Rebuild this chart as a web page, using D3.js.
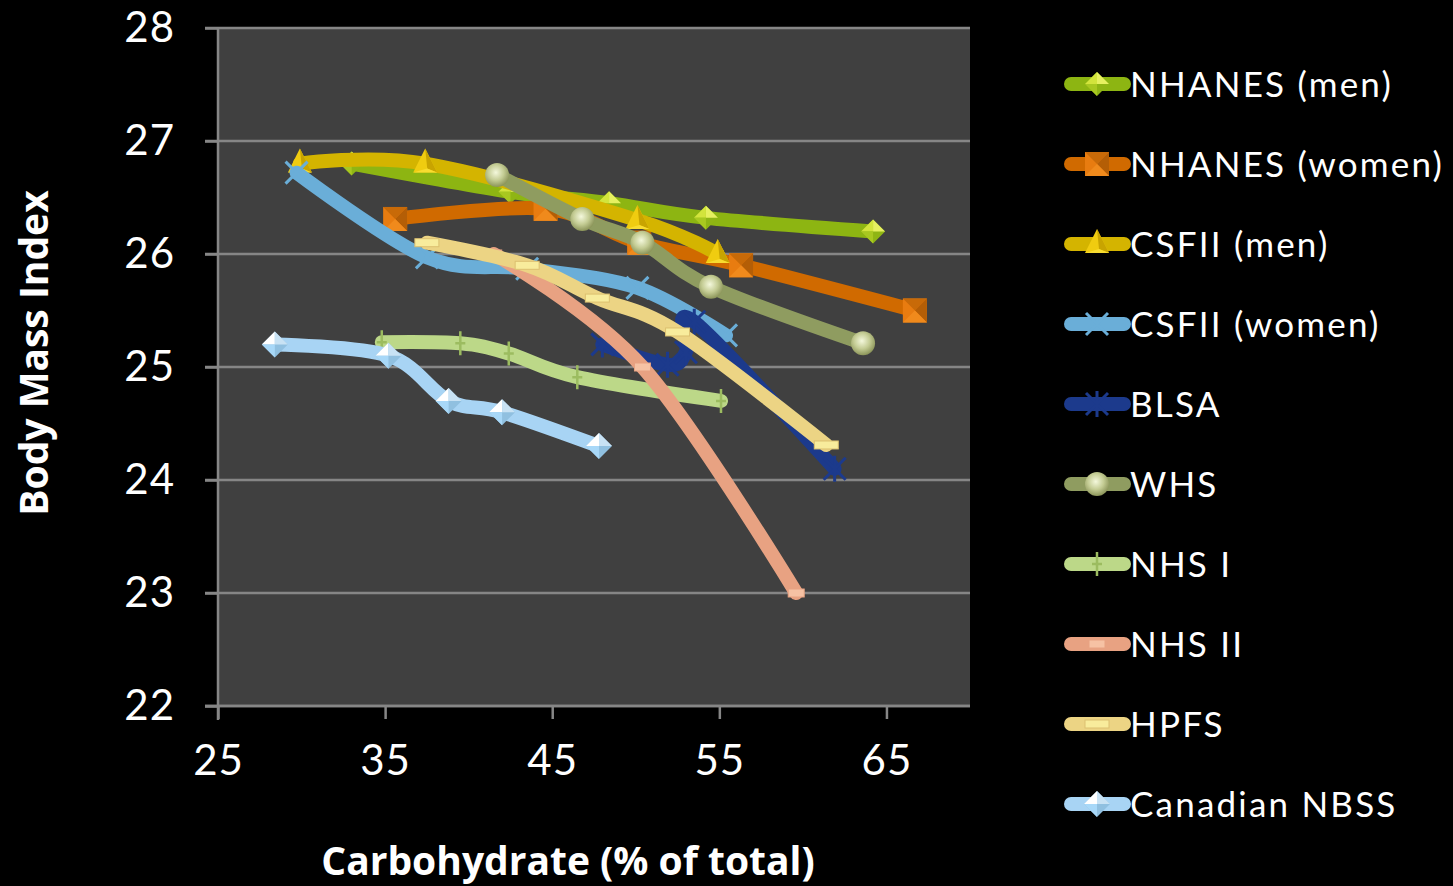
<!DOCTYPE html>
<html>
<head>
<meta charset="utf-8">
<script src="https://cdn.jsdelivr.net/npm/d3@7"></script>
<style>
  html, body { margin: 0; padding: 0; background: #000; }
  svg { display: block; }
  text { font-family: Lato, "Open Sans", sans-serif; fill: #fff; }
</style>
</head>
<body>
<svg id="chart" width="1453" height="886"></svg>
<script>
// Carbohydrate share of energy (%) against mean BMI, by cohort
const seriesNames = ["NHANES (men)", "NHANES (women)", "CSFII (men)", "CSFII (women)", "BLSA",
  "WHS", "NHS I", "NHS II", "HPFS", "Canadian NBSS"];

const nhanesMen = [[33.0, 26.8], [42.5, 26.55], [48.4, 26.45], [54.2, 26.32], [64.2, 26.2]];
const nhanesWomen = [[35.6, 26.31], [44.6, 26.4], [50.2, 26.1], [56.3, 25.9], [66.7, 25.5]];
const csfiiMen = [[29.9, 26.8], [37.4, 26.8], [50.1, 26.3], [54.9, 26.0]];
const csfiiWomen = [[29.7, 26.72], [37.5, 25.97], [43.5, 25.87], [50.1, 25.7], [55.4, 25.28]];
const blsa = [[48.0, 25.2], [51.9, 25.02], [53.0, 25.13], [53.5, 25.4], [61.9, 24.1]];
const whs = [[41.7, 26.7], [46.8, 26.31], [50.4, 26.1], [54.5, 25.71], [63.6, 25.21]];
const nhs1 = [[34.8, 25.22], [39.5, 25.21], [42.4, 25.12], [46.5, 24.91], [55.1, 24.7]];
const nhs2 = [[41.5, 26.0], [50.4, 25.0], [59.6, 23.0]];
const hpfs = [[37.5, 26.1], [43.5, 25.9], [47.7, 25.61], [52.5, 25.31], [61.4, 24.31]];
const nbss = [[28.4, 25.2], [35.2, 25.1], [38.8, 24.7], [42.0, 24.6], [47.8, 24.3]];

const seriesValues = [nhanesMen, nhanesWomen, csfiiMen, csfiiWomen, blsa, whs, nhs1, nhs2, hpfs, nbss];

const xTicks = [25, 35, 45, 55, 65];
const yTicks = [22, 23, 24, 25, 26, 27, 28];

const lineColors = ["#8db512", "#d06a00", "#d4b400", "#6aaed8", "#1c3a8c",
  "#8f9c60", "#bcd888", "#e8a282", "#ecd484", "#a8d4f4"];
const markerKinds = ["diamond", "square", "triangle", "cross", "star",
  "ball", "plus", "dashS", "dashL", "diamondIce"];

const svg = d3.select("#chart");
const plotL = 218, plotR = 970, plotT = 28, plotB = 706;

const x = d3.scaleLinear().domain([25, 70]).range([plotL, plotR]);
const y = d3.scaleLinear().domain([22, 28]).range([plotB, plotT]);

// gradients used by the bevelled markers
const defs = svg.append("defs");
const ballGrad = defs.append("radialGradient").attr("id", "ballGrad")
  .attr("cx", "45%").attr("cy", "40%").attr("r", "60%");
ballGrad.append("stop").attr("offset", "0%").attr("stop-color", "#f4f8dc");
ballGrad.append("stop").attr("offset", "55%").attr("stop-color", "#c4cc94");
ballGrad.append("stop").attr("offset", "100%").attr("stop-color", "#8c955a");

// plot area
svg.append("rect").attr("x", plotL).attr("y", plotT)
  .attr("width", plotR - plotL).attr("height", plotB - plotT).attr("fill", "#404040");

// horizontal gridlines (extend out as the y-axis tick marks)
svg.append("g").selectAll("line").data(yTicks).join("line")
  .attr("x1", plotL - 13).attr("x2", plotR)
  .attr("y1", d => y(d)).attr("y2", d => y(d))
  .attr("stroke", "#868686").attr("stroke-width", 2.5);

// axes
const yAxis = d3.axisLeft(y).tickValues(yTicks).tickSize(13).tickPadding(30).tickFormat(d3.format("d"));
const gy = svg.append("g").attr("transform", `translate(${plotL},0)`).call(yAxis);
const xAxis = d3.axisBottom(x).tickValues(xTicks).tickSize(13).tickPadding(26).tickFormat(d3.format("d"));
const gx = svg.append("g").attr("transform", `translate(0,${plotB})`).call(xAxis);
[gx, gy].forEach(g => {
  g.select(".domain").remove();
  g.selectAll(".tick line").attr("stroke", "#868686").attr("stroke-width", 2.5);
  g.selectAll(".tick text").attr("fill", "#fff").style("font-size", "42px")
    .style("letter-spacing", "1px")
    .style("font-family", "Lato, 'Open Sans', sans-serif");
});
gx.selectAll(".tick text").attr("dy", "0.71em");
svg.append("line").attr("x1", plotL).attr("x2", plotL).attr("y1", plotT).attr("y2", plotB + 14)
  .attr("stroke", "#868686").attr("stroke-width", 2.5);
svg.append("line").attr("x1", plotL - 13).attr("x2", plotR).attr("y1", plotB).attr("y2", plotB)
  .attr("stroke", "#868686").attr("stroke-width", 2.5);

// axis titles
svg.append("text").attr("transform", `translate(48,353) rotate(-90)`)
  .attr("text-anchor", "middle").style("font-family", "'Open Sans', sans-serif")
  .style("font-weight", "bold").style("font-size", "39px").text("Body Mass Index");
svg.append("text").attr("x", 568).attr("y", 875)
  .attr("text-anchor", "middle").style("font-family", "'Open Sans', sans-serif")
  .style("font-weight", "bold").style("font-size", "39px").text("Carbohydrate (% of total)");

// marker drawing
function drawMarker(g, kind, color) {
  switch (kind) {
    case "diamond":
      g.append("path").attr("d", "M0,-12L12,0L0,12L-12,0Z").attr("fill", "#8fb514");
      g.append("path").attr("d", "M0,-12L12,0L0,0Z").attr("fill", "#e6f060");
      g.append("path").attr("d", "M0,-12L-12,0L0,0Z").attr("fill", "#d2e43c");
      g.append("path").attr("d", "M-12,0L0,12L0,0Z").attr("fill", "#a8c820");
      break;
    case "square":
      g.append("rect").attr("x", -12).attr("y", -12).attr("width", 24).attr("height", 24).attr("fill", "#e87c10");
      g.append("path").attr("d", "M-12,-12L12,-12L0,0Z").attr("fill", "#c86a08");
      g.append("path").attr("d", "M12,-12L12,12L0,0Z").attr("fill", "#b45e06");
      g.append("path").attr("d", "M-12,12L12,12L0,0Z").attr("fill", "#f08a1c");
      break;
    case "triangle":
      g.append("path").attr("d", "M0,-15L12,9L-12,9Z").attr("fill", "#f0cc10");
      g.append("path").attr("d", "M0,-15L12,9L2,5Z").attr("fill", "#c8a400");
      g.append("path").attr("d", "M-12,9L12,9L2,5Z").attr("fill", "#f8dc30");
      break;
    case "cross":
      g.append("path").attr("d", "M-11,-11L11,11M11,-11L-11,11")
        .attr("stroke", color).attr("stroke-width", 3);
      break;
    case "star":
      g.append("path").attr("d", "M-11,-11L11,11M11,-11L-11,11M0,-13L0,13")
        .attr("stroke", color).attr("stroke-width", 3);
      break;
    case "ball":
      g.append("circle").attr("r", 12).attr("fill", "url(#ballGrad)");
      break;
    case "plus":
      g.append("path").attr("d", "M0,-12L0,12M-5,0L5,0")
        .attr("stroke", "#9cbc60").attr("stroke-width", 2.5);
      break;
    case "dashS":
      g.append("rect").attr("x", -8).attr("y", -4).attr("width", 16).attr("height", 8)
        .attr("fill", "#f6c2a4").attr("stroke", "#e8a282").attr("stroke-width", 1);
      break;
    case "dashL":
      g.append("rect").attr("x", -12).attr("y", -4).attr("width", 24).attr("height", 8)
        .attr("fill", "#f8ec9c").attr("stroke", "#dcc070").attr("stroke-width", 1);
      break;
    case "diamondIce":
      g.append("path").attr("d", "M0,-13L13,0L0,13L-13,0Z").attr("fill", "#90c0e0");
      g.append("path").attr("d", "M0,-13L-13,0L0,0Z").attr("fill", "#ffffff");
      g.append("path").attr("d", "M0,-13L13,0L0,0Z").attr("fill", "#c8e2f4");
      g.append("path").attr("d", "M-13,0L0,13L0,0Z").attr("fill", "#a8d8f8");
      break;
  }
}

const line = d3.line().x(d => x(d[0])).y(d => y(d[1])).curve(d3.curveCardinal.tension(0));

// series: each line followed by its markers, in legend order
seriesValues.forEach((vals, i) => {
  const g = svg.append("g");
  g.append("path").datum(vals).attr("d", line).attr("fill", "none")
    .attr("stroke", lineColors[i]).attr("stroke-width", 14)
    .attr("stroke-linecap", "round").attr("stroke-linejoin", "round");
  g.selectAll("g.m").data(vals).join("g").attr("class", "m")
    .attr("transform", d => `translate(${x(d[0])},${y(d[1])})`)
    .each(function () { drawMarker(d3.select(this), markerKinds[i], lineColors[i]); });
});

// legend
const legend = svg.append("g");
seriesNames.forEach((name, i) => {
  const cy = 84 + i * 80;
  const row = legend.append("g");
  row.append("line").attr("x1", 1071).attr("x2", 1124).attr("y1", cy).attr("y2", cy)
    .attr("stroke", lineColors[i]).attr("stroke-width", 14).attr("stroke-linecap", "round");
  drawMarker(row.append("g").attr("transform", `translate(1097,${cy})`), markerKinds[i], lineColors[i]);
  row.append("text").attr("x", 1130).attr("y", cy).attr("dy", "0.36em")
    .style("font-size", "35px").style("letter-spacing", "2.2px").text(name);
});
</script>
</body>
</html>
